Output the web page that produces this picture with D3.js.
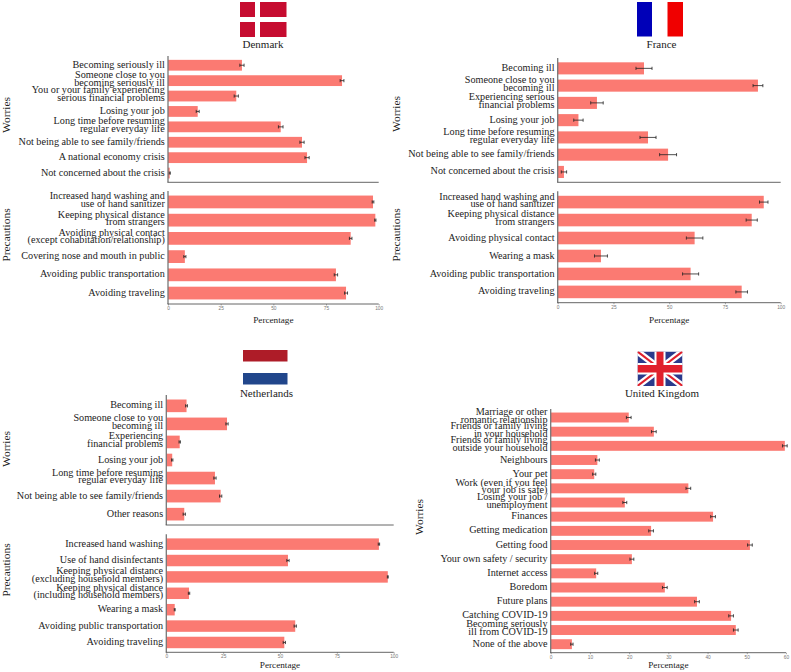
<!DOCTYPE html>
<html>
<head>
<meta charset="utf-8">
<script src="https://cdn.jsdelivr.net/npm/d3@7/dist/d3.min.js"></script>
<style>
body { margin: 0; background: #fff; }
text { font-family: "Liberation Serif", serif; fill: #222; }
</style>
</head>
<body>
<script>
var dkWorries = ["Becoming seriously ill", "Someone close to you\nbecoming seriously ill", "You or your family experiencing\nserious financial problems", "Losing your job", "Long time before resuming\nregular everyday life", "Not being able to see family/friends", "A national economy crisis", "Not concerned about the crisis"];
var dkWorriesVal = [35.1, 82.6, 32.4, 14.1, 53.5, 63.6, 66, 0.8];
var dkWorriesErr = [1, 0.9, 1, 0.7, 1.1, 1, 1, 0.3];
var dkPrec = ["Increased hand washing and\nuse of hand sanitizer", "Keeping physical distance\nfrom strangers", "Avoiding physical contact\n(except cohabitation/relationship)", "Covering nose and mouth in public", "Avoiding public transportation", "Avoiding traveling"];
var dkPrecVal = [97.3, 98.4, 86.7, 8, 79.7, 84.5];
var dkPrecErr = [0.4, 0.3, 0.6, 0.5, 0.8, 0.7];

var frWorries = ["Becoming ill", "Someone close to you\nbecoming ill", "Experiencing serious\nfinancial problems", "Losing your job", "Long time before resuming\nregular everyday life", "Not being able to see family/friends", "Not concerned about the crisis"];
var frWorriesVal = [38.7, 89.8, 17.6, 9.3, 40.5, 49.5, 2.8];
var frWorriesErr = [3.6, 2.2, 2.8, 2.1, 3.6, 3.8, 1.2];
var frPrec = ["Increased hand washing and\nuse of hand sanitizer", "Keeping physical distance\nfrom strangers", "Avoiding physical contact", "Wearing a mask", "Avoiding public transportation", "Avoiding traveling"];
var frPrecVal = [92.4, 87, 61.4, 19.4, 59.6, 82.5];
var frPrecErr = [1.9, 2.5, 3.7, 2.9, 3.6, 2.6];

var nlWorries = ["Becoming ill", "Someone close to you\nbecoming ill", "Experiencing\nfinancial problems", "Losing your job", "Long time before resuming\nregular everyday life", "Not being able to see family/friends", "Other reasons"];
var nlWorriesVal = [8.9, 26.7, 5.9, 2.6, 21.4, 23.9, 7.9];
var nlWorriesErr = [0.4, 0.5, 0.3, 0.3, 0.5, 0.5, 0.5];
var nlPrec = ["Increased hand washing", "Use of hand disinfectants", "Keeping physical distance\n(excluding household members)", "Keeping physical distance\n(including household members)", "Wearing a mask", "Avoiding public transportation", "Avoiding traveling"];
var nlPrecVal = [93.5, 53.5, 97.4, 10, 3.7, 56.7, 51.9];
var nlPrecErr = [0.3, 0.5, 0.2, 0.3, 0.2, 0.5, 0.5];

var ukWorries = ["Marriage or other\nromantic relationship", "Friends or family living\nin your household", "Friends or family living\noutside your household", "Neighbours", "Your pet", "Work (even if you feel\nyour job is safe)", "Losing your job /\nunemployment", "Finances", "Getting medication", "Getting food", "Your own safety / security", "Internet access", "Boredom", "Future plans", "Catching COVID-19", "Becoming seriously\nill from COVID-19", "None of the above"];
var ukWorriesVal = [19.9, 26.3, 59.7, 11.9, 11.1, 35.1, 18.9, 41.4, 25.6, 50.8, 20.7, 11.6, 29.1, 37.3, 46, 47.2, 5.4];
var ukWorriesErr = [0.6, 0.6, 0.6, 0.5, 0.4, 0.6, 0.5, 0.6, 0.6, 0.6, 0.5, 0.4, 0.6, 0.6, 0.6, 0.6, 0.3];

var pctTicks = [0, 25, 50, 75, 100];
var ukTicks = [0, 10, 20, 30, 40, 50, 60];

var barColor = "#fb7a72";
var axisColor = "#555";

var svg = d3.select("body").append("svg")
	.attr("width", 791)
	.attr("height", 672)
	.style("display", "block");

// one panel: left title, wrapped labels, bars with error bars
function panel(o) {
	var x = d3.scaleLinear().domain(o.domain).range([o.x0, o.x1]);
	var y = d3.scaleBand().domain(o.cats).range([o.y0, o.y1]).paddingInner(0.3).paddingOuter(0.25);
	var g = svg.append("g");

	g.selectAll("rect.bar")
		.data(o.cats)
		.enter()
		.append("rect")
		.attr("class", "bar")
		.attr("x", x(0))
		.attr("y", function (d) { return y(d); })
		.attr("width", function (d, i) { return x(o.vals[i]) - x(0); })
		.attr("height", y.bandwidth())
		.attr("fill", barColor);

	// error bars
	var err = g.selectAll("g.err")
		.data(o.cats)
		.enter()
		.append("g")
		.attr("class", "err")
		.attr("stroke", "#222")
		.attr("stroke-width", 0.8);
	err.append("line")
		.attr("x1", function (d, i) { return x(o.vals[i] - o.errs[i]); })
		.attr("x2", function (d, i) { return x(o.vals[i] + o.errs[i]); })
		.attr("y1", function (d) { return y(d) + y.bandwidth() / 2; })
		.attr("y2", function (d) { return y(d) + y.bandwidth() / 2; });
	[-1, 1].forEach(function (s) {
		err.append("line")
			.attr("x1", function (d, i) { return x(o.vals[i] + s * o.errs[i]); })
			.attr("x2", function (d, i) { return x(o.vals[i] + s * o.errs[i]); })
			.attr("y1", function (d) { return y(d) + y.bandwidth() / 2 - 1.6; })
			.attr("y2", function (d) { return y(d) + y.bandwidth() / 2 + 1.6; });
	});

	// category labels
	var labels = g.selectAll("text.cat")
		.data(o.cats)
		.enter()
		.append("text")
		.attr("class", "cat")
		.attr("text-anchor", "end")
		.attr("font-size", 10.2)
		.attr("y", function (d) { return y(d) + y.bandwidth() / 2; });
	labels.each(function (d) {
		var parts = d.split("\n");
		var t = d3.select(this);
		parts.forEach(function (p, j) {
			t.append("tspan")
				.attr("x", o.x0 - 3.2)
				.attr("dy", j == 0 ? (parts.length == 1 ? "0.25em" : "-0.25em") : "0.75em")
				.text(p);
		});
	});

	g.append("line")
		.attr("x1", o.x0).attr("x2", o.x0)
		.attr("y1", o.y0).attr("y2", o.y1)
		.attr("stroke", "#777").attr("stroke-width", 1.3);
	g.append("line")
		.attr("x1", o.x0 - 0.6).attr("x2", o.x1)
		.attr("y1", o.y1).attr("y2", o.y1)
		.attr("stroke", axisColor).attr("stroke-width", 0.9);

	// panel title, rotated
	g.append("text")
		.attr("transform", "translate(" + o.titleX + "," + o.titleY + ") rotate(-90)")
		.attr("text-anchor", "middle")
		.attr("font-size", 11.4)
		.text(o.title);

	if (o.ticks) {
		var ax = d3.axisBottom(x).tickValues(o.ticks).tickSize(1.5).tickPadding(1);
		var axG = g.append("g").attr("transform", "translate(0," + o.y1 + ")").call(ax);
		axG.select(".domain").remove();
		axG.selectAll("line").attr("stroke", axisColor).attr("stroke-width", 0.5);
		axG.selectAll("text").style("fill", "#777").attr("font-size", 4.8).style("font-family", "Liberation Sans");
		g.append("text")
			.attr("x", (o.x0 + o.x1) / 2)
			.attr("y", o.y1 + o.labelDy)
			.attr("text-anchor", "middle")
			.attr("font-size", 9.2)
			.text("Percentage");
	}
}

function name(label, cx, y) {
	svg.append("text").attr("x", cx).attr("y", y).attr("text-anchor", "middle").attr("font-size", 11).text(label);
}

function box(x, y, w, h, c, parent) {
	(parent || svg).append("rect").attr("x", x).attr("y", y).attr("width", w).attr("height", h).attr("fill", c);
}

// Denmark
box(240, 2, 15, 15, "#c60c30");
box(260, 2, 26.5, 15, "#c60c30");
box(240, 22, 15, 15, "#c60c30");
box(260, 22, 26.5, 15, "#c60c30");
name("Denmark", 263, 47.5);
panel({ cats: dkWorries, vals: dkWorriesVal, errs: dkWorriesErr, domain: [0, 100], x0: 168, x1: 378.7, y0: 56, y1: 182.3, title: "Worries", titleX: 10.3, titleY: 115 });
panel({ cats: dkPrec, vals: dkPrecVal, errs: dkPrecErr, domain: [0, 100], x0: 168, x1: 378.7, y0: 191, y1: 304, title: "Precautions", titleX: 10.3, titleY: 235, ticks: pctTicks, labelDy: 18.5 });

// France
box(637, 2, 15, 34.5, "#0000b8");
box(667.5, 2, 15.5, 34.5, "#f00000");
name("France", 661.5, 47.5);
panel({ cats: frWorries, vals: frWorriesVal, errs: frWorriesErr, domain: [0, 100], x0: 557.7, x1: 780.7, y0: 58, y1: 182.3, title: "Worries", titleX: 400, titleY: 114 });
panel({ cats: frPrec, vals: frPrecVal, errs: frPrecErr, domain: [0, 100], x0: 557.7, x1: 780.7, y0: 191.3, y1: 302.7, title: "Precautions", titleX: 400, titleY: 235, ticks: pctTicks, labelDy: 20 });

// Netherlands
box(243, 350, 44.5, 11.5, "#ae1c28");
box(243, 373, 44.5, 11.5, "#21468b");
name("Netherlands", 266.5, 396.7);
panel({ cats: nlWorries, vals: nlWorriesVal, errs: nlWorriesErr, domain: [0, 100], x0: 166.3, x1: 393.7, y0: 395, y1: 525, title: "Worries", titleX: 10.3, titleY: 449 });
panel({ cats: nlPrec, vals: nlPrecVal, errs: nlPrecErr, domain: [0, 100], x0: 166.3, x1: 393.7, y0: 534.3, y1: 652.3, title: "Precautions", titleX: 10.3, titleY: 570, ticks: pctTicks, labelDy: 16 });

// United Kingdom
var uk = svg.append("g").attr("transform", "translate(637.5,351.5)");
uk.append("clipPath").attr("id", "ukClip").append("rect").attr("width", 45).attr("height", 34.5);
var ukF = uk.append("g").attr("clip-path", "url(#ukClip)");
box(0, 0, 45, 34.5, "#2a3a8c", ukF);
[[0, 0, 45, 34.5], [0, 34.5, 45, 0]].forEach(function (d) {
	ukF.append("line").attr("x1", d[0]).attr("y1", d[1]).attr("x2", d[2]).attr("y2", d[3]).attr("stroke", "#fff").attr("stroke-width", 6.5);
	ukF.append("line").attr("x1", d[0]).attr("y1", d[1]).attr("x2", d[2]).attr("y2", d[3]).attr("stroke", "#e0202c").attr("stroke-width", 2);
});
box(17, 0, 11, 34.5, "#fff", ukF);
box(0, 11.5, 45, 11.5, "#fff", ukF);
box(19, 0, 7, 34.5, "#e0202c", ukF);
box(0, 13.5, 45, 7.5, "#e0202c", ukF);
name("United Kingdom", 662, 396.7);
panel({ cats: ukWorries, vals: ukWorriesVal, errs: ukWorriesErr, domain: [0, 60], x0: 550.7, x1: 786, y0: 409, y1: 652.7, title: "Worries", titleX: 423, titleY: 517, ticks: ukTicks, labelDy: 15.5 });
</script>
</body>
</html>
